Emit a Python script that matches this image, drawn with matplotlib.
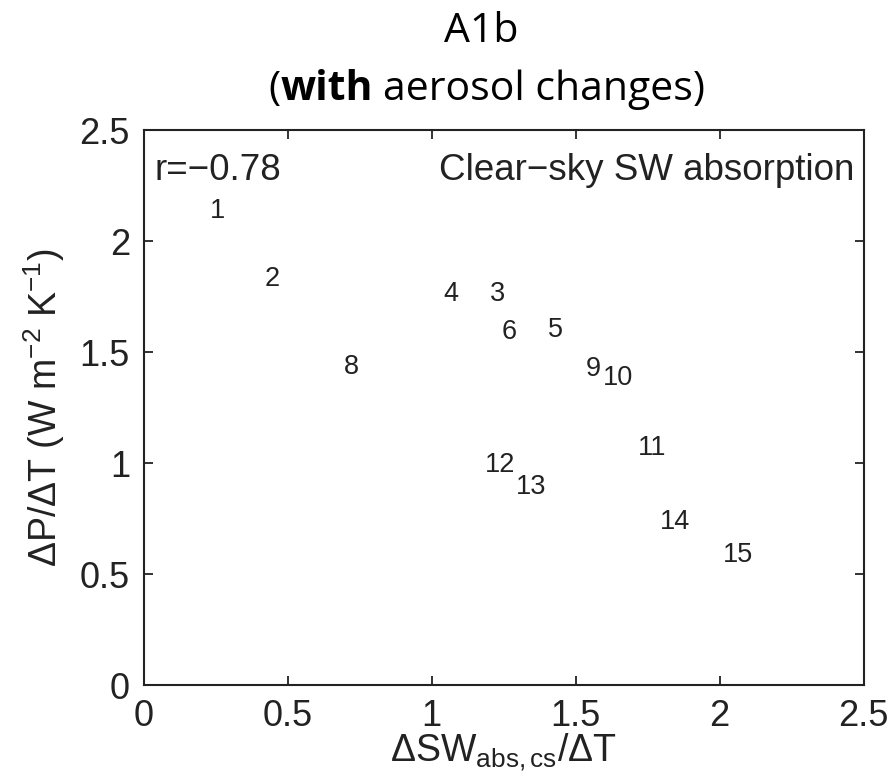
import matplotlib
matplotlib.use("Agg")
import matplotlib.pyplot as plt

# model numbers with their clear-sky SW absorption and precipitation sensitivity
model_ids = ['1', '2', '3', '4', '5', '6', '8', '9', '10', '11', '12', '13', '14', '15']
sw_abs_cs = [0.229, 0.420, 1.201, 1.042, 1.403, 1.242, 0.694, 1.534, 1.594, 1.715, 1.184, 1.292, 1.794, 2.010]
dp_dt = [2.135, 1.829, 1.761, 1.761, 1.599, 1.590, 1.432, 1.423, 1.383, 1.068, 0.991, 0.892, 0.734, 0.586]

ticks = [0, 0.5, 1, 1.5, 2, 2.5]
tick_labels = ['0', '0.5', '1', '1.5', '2', '2.5']

plt.rcParams['font.family'] = ['Liberation Sans', 'DejaVu Sans']
plt.rcParams['mathtext.fontset'] = 'custom'
plt.rcParams['mathtext.rm'] = 'Liberation Sans'
plt.rcParams['mathtext.it'] = 'Liberation Sans'
plt.rcParams['mathtext.default'] = 'regular'

INK = '#222222'
W, H = 893, 784

fig = plt.figure(figsize=(W / 100, H / 100), dpi=100)
ax = fig.add_axes([0.161, 0.126, 0.806, 0.708])

for lbl, x, y in zip(model_ids, sw_abs_cs, dp_dt):
    ax.text(x, y, lbl, ha='left', va='center', fontsize=19.5, color=INK)

ax.set_xlim(0, 2.5)
ax.set_ylim(0, 2.5)
ax.set_xticks(ticks)
ax.set_xticklabels(tick_labels)
ax.set_yticks(ticks)
ax.set_yticklabels(tick_labels)
ax.tick_params(direction='in', length=6.5, width=1.3, labelsize=26, color=INK,
               labelcolor=INK, top=True, right=True)
ax.tick_params(axis='x', pad=10)
ax.tick_params(axis='y', pad=10)
for sp in ax.spines.values():
    sp.set_linewidth(1.5)
    sp.set_color(INK)

ax.text(0.015, 0.91, 'r=\u22120.78', transform=ax.transAxes, ha='left', va='baseline',
        fontsize=26.5, color=INK)
ax.text(0.987, 0.91, 'Clear\u2212sky SW absorption', transform=ax.transAxes, ha='right',
        va='baseline', fontsize=26.5, color=INK)

ax.set_xlabel('$\\Delta$SW$_{abs,cs}$/$\\Delta$T', fontsize=27, color=INK, labelpad=-2)
ax.set_ylabel('$\\Delta$P/$\\Delta$T (W m$^{-2}$ K$^{-1}$)', fontsize=27, color=INK, labelpad=9)

# two-line heading, pieces laid out side by side and centred in pixels
title_font = 'Open Sans'
title_size = 29.5
renderer = fig.canvas.get_renderer()


def heading_line(parts, baseline_px, center_px, gap_px):
    items = []
    for s, weight in parts:
        t = fig.text(0, 1 - baseline_px / H, s, ha='left', va='baseline', fontsize=title_size,
                     family=title_font, weight=weight, color='black')
        items.append(t)
    widths = [t.get_window_extent(renderer).width for t in items]
    gaps = [0] + gap_px
    total = sum(widths) + sum(gaps)
    x = center_px - total / 2
    for t, w, g in zip(items, widths, gaps):
        x += g
        t.set_x(x / W)
        x += w


heading_line([('A1b', 'normal')], 42, 481, [])
heading_line([('(', 'normal'), ('with', 'bold'), ('aerosol changes)', 'normal')], 100, 487,
             [0, 10])

fig.savefig('out.png', dpi=100)
